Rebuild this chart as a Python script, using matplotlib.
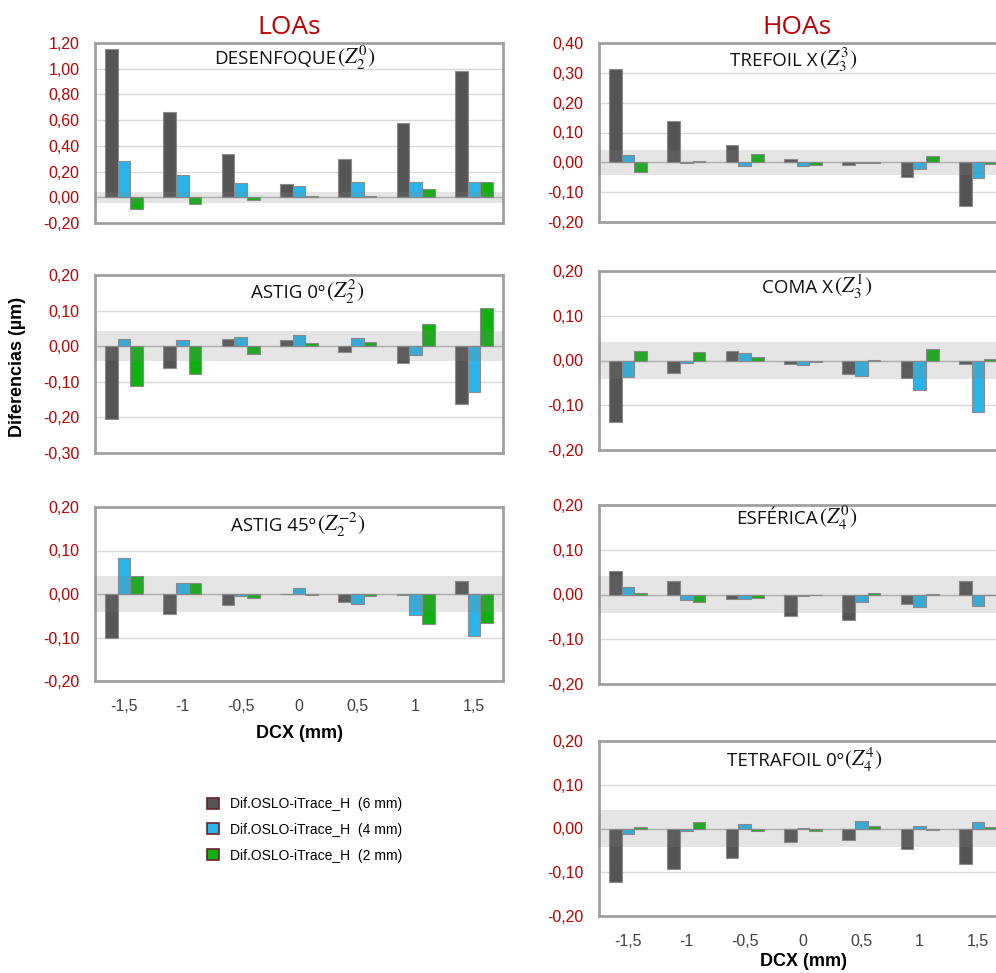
import matplotlib
matplotlib.use("Agg")
import matplotlib.pyplot as plt
from matplotlib.patches import Patch
import numpy as np

plt.rcParams['mathtext.fontset'] = 'stix'

# ---------------- data ----------------
categories = ['-1,5', '-1', '-0,5', '0', '0,5', '1', '1,5']
series_labels = ['Dif.OSLO-iTrace_H  (6 mm)', 'Dif.OSLO-iTrace_H  (4 mm)', 'Dif.OSLO-iTrace_H  (2 mm)']

desenfoque_6 = [1.153, 0.660, 0.338, 0.105, 0.300, 0.579, 0.980]
desenfoque_4 = [0.286, 0.170, 0.110, 0.089, 0.118, 0.118, 0.118]
desenfoque_2 = [-0.092, -0.052, -0.018, 0.010, 0.008, 0.063, 0.118]

trefoil_6 = [0.313, 0.139, 0.057, 0.010, -0.010, -0.048, -0.145]
trefoil_4 = [0.025, -0.003, -0.013, -0.013, -0.003, -0.021, -0.051]
trefoil_2 = [-0.033, 0.005, 0.028, -0.009, -0.003, 0.020, -0.004]

astig0_6 = [-0.204, -0.060, 0.019, 0.017, -0.017, -0.048, -0.161]
astig0_4 = [0.021, 0.018, 0.027, 0.032, 0.024, -0.026, -0.130]
astig0_2 = [-0.113, -0.079, -0.023, 0.010, 0.012, 0.062, 0.107]

coma_6 = [-0.138, -0.029, 0.021, -0.007, -0.031, -0.040, -0.008]
coma_4 = [-0.037, -0.006, 0.017, -0.010, -0.035, -0.066, -0.114]
coma_2 = [0.021, 0.020, 0.008, -0.004, 0.001, 0.026, 0.004]

astig45_6 = [-0.101, -0.045, -0.025, -0.001, -0.018, -0.003, 0.029]
astig45_4 = [0.083, 0.026, -0.005, 0.014, -0.022, -0.049, -0.096]
astig45_2 = [0.041, 0.026, -0.009, -0.003, -0.005, -0.069, -0.067]

esferica_6 = [0.053, 0.031, -0.009, -0.048, -0.058, -0.022, 0.031]
esferica_4 = [0.016, -0.013, -0.011, -0.003, -0.016, -0.029, -0.026]
esferica_2 = [0.004, -0.016, -0.007, -0.0015, 0.004, 0.002, -0.002]

tetrafoil_6 = [-0.123, -0.092, -0.067, -0.031, -0.026, -0.046, -0.082]
tetrafoil_4 = [-0.012, -0.005, 0.011, 0.0015, 0.018, 0.005, 0.014]
tetrafoil_2 = [0.003, 0.016, -0.005, -0.005, 0.005, -0.004, 0.003]

band_limit = 0.042

# ---------------- style ----------------
W, H = 996, 973
colors = ['#555555', '#29B5EA', '#10B010']
red = '#C00000'
tick_font = 'Liberation Sans'
title_font = 'Open Sans'

fig = plt.figure(figsize=(W / 100, H / 100), dpi=100)
renderer = fig.canvas.get_renderer()


def px_axes(x0, y0, x1, y1):
    return fig.add_axes([x0 / W, 1 - y1 / H, (x1 - x0) / W, (y1 - y0) / H])


def two_part_title(plain, math, cx, cy):
    y = 1 - (cy + 6) / H
    t1 = fig.text(0, y, plain, ha='left', va='baseline', fontfamily=title_font,
                  fontsize=13.5, color='#111111')
    t2 = fig.text(0, y, math, ha='left', va='baseline', fontsize=15.5, color='#111111')
    w1 = t1.get_window_extent(renderer).width
    w2 = t2.get_window_extent(renderer).width
    x0 = cx - (w1 + w2) / 2
    t1.set_x(x0 / W)
    t2.set_x((x0 + w1 + 1) / W)


# panels: (pixel box, title parts, title center px, ylim, yticks, series, xlabel pad or None)
panels = [
    ((95, 43, 503, 223), ('DESENFOQUE', r'$(Z_2^0)$'), (294, 58), (-0.2, 1.2), np.arange(-0.2, 1.21, 0.2),
     (desenfoque_6, desenfoque_4, desenfoque_2), None),
    ((599, 43, 1007, 222), ('TREFOIL X', r'$(Z_3^3)$'), (793, 60), (-0.2, 0.4), np.arange(-0.2, 0.41, 0.1),
     (trefoil_6, trefoil_4, trefoil_2), None),
    ((95, 275, 503, 453), ('ASTIG 0º', r'$(Z_2^2)$'), (307, 292), (-0.3, 0.2), np.arange(-0.3, 0.21, 0.1),
     (astig0_6, astig0_4, astig0_2), None),
    ((599, 271, 1007, 450), ('COMA X', r'$(Z_3^1)$'), (817, 287), (-0.2, 0.2), np.arange(-0.2, 0.21, 0.1),
     (coma_6, coma_4, coma_2), None),
    ((95, 507, 503, 681), ('ASTIG 45º', r'$(Z_2^{-2})$'), (298, 525), (-0.2, 0.2), np.arange(-0.2, 0.21, 0.1),
     (astig45_6, astig45_4, astig45_2), 8),
    ((599, 505, 1007, 684), ('ESFÉRICA', r'$(Z_4^0)$'), (796, 518), (-0.2, 0.2), np.arange(-0.2, 0.21, 0.1),
     (esferica_6, esferica_4, esferica_2), None),
    ((599, 741, 1007, 916), ('TETRAFOIL 0º', r'$(Z_4^4)$'), (804, 760), (-0.2, 0.2), np.arange(-0.2, 0.21, 0.1),
     (tetrafoil_6, tetrafoil_4, tetrafoil_2), 3),
]

x = np.arange(len(categories))
bw = 0.218

for box, (plain, math), (tx, ty), ylim, yticks, series, xpad in panels:
    ax = px_axes(*box)
    ax.set_xlim(-0.5, len(categories) - 0.5)
    ax.set_ylim(*ylim)
    ax.set_yticks(yticks)
    ax.set_yticklabels([f'{v:.2f}'.replace('.', ',').replace('-0,00', '0,00') for v in yticks],
                       fontfamily=tick_font, fontsize=11.5, color=red)
    ax.tick_params(axis='y', length=0, pad=11)
    ax.grid(axis='y', color='#D9D9D9', lw=1, zorder=0)
    ax.set_axisbelow(True)
    for i, vals in enumerate(series):
        ax.bar(x + (i - 1) * bw, vals, width=bw, color=colors[i],
               edgecolor='#8C8C8C', linewidth=0.8, zorder=2)
    ax.axhline(0, color='#BFBFBF', lw=1, zorder=1.5)
    ax.axhspan(-band_limit, band_limit, color='#808080', alpha=0.2, lw=0, zorder=3)
    for s in ax.spines.values():
        s.set_color('#A0A0A0')
        s.set_linewidth(2)
    ax.set_xticks(x)
    if xpad is not None:
        ax.set_xticklabels(categories, fontfamily=tick_font, fontsize=11.5, color='#404040')
        ax.tick_params(axis='x', length=0, pad=13)
        ax.set_xlabel('DCX (mm)', fontfamily=tick_font, fontsize=13, fontweight='bold',
                      labelpad=xpad)
    else:
        ax.set_xticklabels([])
        ax.tick_params(axis='x', length=0)
    two_part_title(plain, math, tx, ty)

fig.text(289 / W, 1 - 27 / H, 'LOAs', ha='center', va='center', fontfamily=title_font,
         fontsize=19, color=red)
fig.text(797 / W, 1 - 27 / H, 'HOAs', ha='center', va='center', fontfamily=title_font,
         fontsize=19, color=red)
fig.text(18 / W, 1 - 367 / H, 'Diferencias (µm)', ha='center', va='center', rotation=90,
         fontfamily=tick_font, fontsize=13, fontweight='bold')

handles = [Patch(facecolor=c, edgecolor='#6E1F2E', linewidth=1.2) for c in colors]
fig.legend(handles, series_labels, loc='upper left', bbox_to_anchor=(200 / W, 1 - 790 / H),
           frameon=False, prop={'family': tick_font, 'size': 10}, handlelength=0.85,
           handleheight=0.85, handletextpad=0.8, labelspacing=0.85, borderpad=0)

fig.savefig('out.png', dpi=100)
